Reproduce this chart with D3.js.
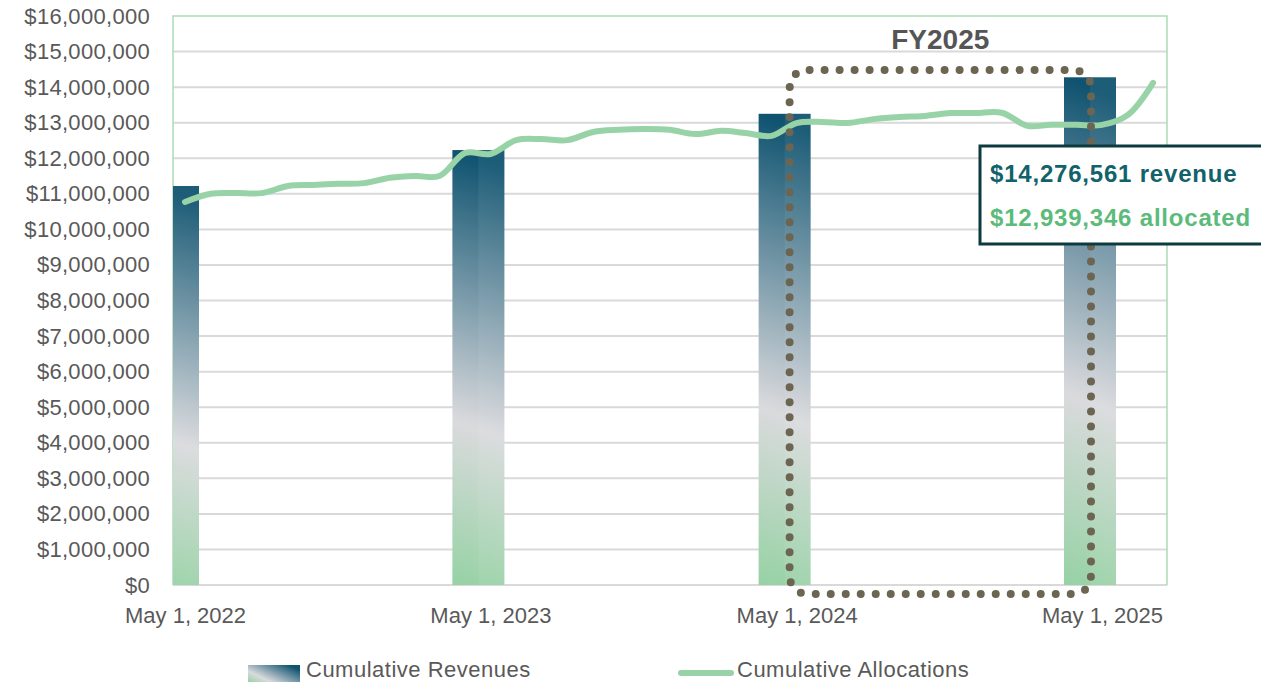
<!DOCTYPE html>
<html lang="en">
<meta charset="utf-8">
<head>
  <script src="https://d3js.org/d3.v7.min.js"></script>
  <style>
    body { margin: 0; background: #fff; }
    svg { display: block; font-family: "Liberation Sans", Arial, sans-serif; }
  </style>
</head>
<body>
<svg id="chart" width="1261" height="684"></svg>
<script>
// revenue bars, one per fiscal year mark
var barDates = ["2022-05-01", "2023-05-01", "2024-05-01", "2025-05-01"];
var revenues = [11220000, 12230000, 13250000, 14276561];

// cumulative allocations, monthly
var allocDates = [
  "2022-05-01", "2022-06-01", "2022-07-01", "2022-08-01", "2022-09-01", "2022-10-01",
  "2022-11-01", "2022-12-01", "2023-01-01", "2023-02-01", "2023-03-01", "2023-04-01",
  "2023-05-01", "2023-06-01", "2023-07-01", "2023-08-01", "2023-09-01", "2023-10-01",
  "2023-11-01", "2023-12-01", "2024-01-01", "2024-02-01", "2024-03-01", "2024-04-01",
  "2024-05-01", "2024-06-01", "2024-07-01", "2024-08-01", "2024-09-01", "2024-10-01",
  "2024-11-01", "2024-12-01", "2025-01-01", "2025-02-01", "2025-03-01", "2025-04-01",
  "2025-05-01", "2025-06-01", "2025-07-01"
];
var allocations = [
  10770000, 11000000, 11020000, 11020000, 11220000, 11250000,
  11280000, 11300000, 11450000, 11500000, 11500000, 12150000,
  12120000, 12510000, 12540000, 12510000, 12740000, 12800000,
  12820000, 12800000, 12680000, 12770000, 12710000, 12630000,
  12990000, 13020000, 12990000, 13100000, 13160000, 13190000,
  13270000, 13270000, 13280000, 12910000, 12940000, 12940000,
  12939346, 13220000, 14120000
];

var xTickDates = ["2022-05-01", "2023-05-01", "2024-05-01", "2025-05-01"];
var yTicks = d3.range(0, 16000001, 1000000);

var calloutLines = ["$14,276,561 revenue", "$12,939,346 allocated"];
var annotationLabel = "FY2025";
var legendLabels = ["Cumulative Revenues", "Cumulative Allocations"];

var parse = d3.timeParse("%Y-%m-%d");

var svg = d3.select("#chart");
var plotL = 173, plotR = 1167, plotT = 16, plotB = 585;

var x = d3.scaleTime()
  .domain([parse("2022-05-01"), parse("2025-05-01")])
  .range([185, 1102]);
var y = d3.scaleLinear()
  .domain([0, 16000000])
  .range([plotB, plotT]);

var barW = 52, barShift = 12;
var fmt = function(d) { return "$" + d3.format(",")(d); };

var defs = svg.append("defs");
defs.append("clipPath").attr("id", "plotclip")
  .append("rect")
  .attr("x", plotL).attr("y", 0)
  .attr("width", plotR - plotL).attr("height", plotB + 1);

// bar gradient (slightly tilted)
var g1 = defs.append("linearGradient").attr("id", "barGrad")
  .attr("x1", 0).attr("y1", 1).attr("x2", 0.04).attr("y2", 0);
g1.append("stop").attr("offset", "0").attr("stop-color", "#96d2a4");
g1.append("stop").attr("offset", "0.38").attr("stop-color", "#dadadd");
g1.append("stop").attr("offset", "1").attr("stop-color", "#0f5370");

var g2 = defs.append("linearGradient").attr("id", "legGrad")
  .attr("x1", 0).attr("y1", 1).attr("x2", 1).attr("y2", 0.3);
g2.append("stop").attr("offset", "0").attr("stop-color", "#96d2a4");
g2.append("stop").attr("offset", "0.3").attr("stop-color", "#dadadd");
g2.append("stop").attr("offset", "1").attr("stop-color", "#0f5370");

// gridlines
svg.append("g")
  .selectAll("line")
  .data(yTicks.filter(function(d) { return d < 16000000; }))
  .enter()
  .append("line")
    .attr("x1", plotL).attr("x2", plotR)
    .attr("y1", function(d) { return y(d); })
    .attr("y2", function(d) { return y(d); })
    .attr("stroke", "#d9d9d9")
    .attr("stroke-width", 2);

// plot border (left, top, right)
svg.append("path")
  .attr("d", "M" + plotL + "," + plotB + "V" + plotT + "H" + plotR + "V" + plotB)
  .attr("fill", "none")
  .attr("stroke", "#acdcb7")
  .attr("stroke-width", 1.5);

// y axis
var yAxis = svg.append("g")
  .attr("transform", "translate(" + plotL + ",0)")
  .call(d3.axisLeft(y).tickValues(yTicks).tickFormat(fmt).tickSize(0).tickPadding(23));
yAxis.select(".domain").remove();
yAxis.selectAll("text")
  .attr("fill", "#595959")
  .style("font-size", "22px")
  .style("letter-spacing", "0.3px")
  .style("font-family", "'Liberation Sans', Arial, sans-serif");

// x axis
var xAxis = svg.append("g")
  .attr("transform", "translate(0," + plotB + ")")
  .call(d3.axisBottom(x)
    .tickValues(xTickDates.map(parse))
    .tickFormat(d3.timeFormat("%b %-d, %Y"))
    .tickSize(0).tickPadding(22));
xAxis.select(".domain").remove();
xAxis.selectAll("text")
  .attr("fill", "#595959")
  .style("font-size", "22px")
  .style("font-family", "'Liberation Sans', Arial, sans-serif");

// bars
var bars = svg.append("g").attr("clip-path", "url(#plotclip)");
var barData = barDates.map(function(d, i) { return { date: parse(d), value: revenues[i] }; });
bars.selectAll("rect.bar")
  .data(barData)
  .enter()
  .append("rect")
    .attr("class", "bar")
    .attr("x", function(d) { return x(d.date) - barShift - barW / 2; })
    .attr("y", function(d) { return y(d.value); })
    .attr("width", barW)
    .attr("height", function(d) { return y(0) - y(d.value); })
    .attr("fill", "url(#barGrad)");
// right half sheen
bars.selectAll("rect.sheen")
  .data(barData)
  .enter()
  .append("rect")
    .attr("class", "sheen")
    .attr("x", function(d) { return x(d.date) - barShift; })
    .attr("y", function(d) { return y(d.value); })
    .attr("width", barW / 2)
    .attr("height", function(d) { return y(0) - y(d.value); })
    .attr("fill", "#fff")
    .attr("opacity", 0.06);

// allocations line
var lineData = allocDates.map(function(d, i) { return { date: parse(d), value: allocations[i] }; });
var line = d3.line()
  .x(function(d) { return x(d.date); })
  .y(function(d) { return y(d.value); })
  .curve(d3.curveCatmullRom.alpha(0.5));
svg.append("path")
  .datum(lineData)
  .attr("d", line)
  .attr("fill", "none")
  .attr("stroke", "#98d3a8")
  .attr("stroke-width", 6)
  .attr("stroke-linecap", "round")
  .attr("stroke-linejoin", "round");

// FY2025 dotted box
var boxL = x(parse(barDates[2])) - 7, boxR = x(parse(barDates[3])) - 11;
var boxT = y(14480000), boxB = y(-250000), r = 20;
var boxPath = "M" + (boxL + r) + "," + boxT +
  "H" + (boxR - r) + "Q" + boxR + "," + boxT + " " + boxR + "," + (boxT + r) +
  "V" + (boxB - r) + "Q" + boxR + "," + boxB + " " + (boxR - r) + "," + boxB +
  "H" + (boxL + r) + "Q" + boxL + "," + boxB + " " + boxL + "," + (boxB - r) +
  "V" + (boxT + r) + "Q" + boxL + "," + boxT + " " + (boxL + r) + "," + boxT + "Z";
svg.append("path")
  .attr("d", boxPath)
  .attr("fill", "none")
  .attr("stroke", "#6b6552")
  .attr("stroke-width", 8)
  .attr("stroke-linecap", "round")
  .attr("stroke-dasharray", "0 15");

svg.append("text")
  .attr("x", (boxL + boxR) / 2)
  .attr("y", 49)
  .attr("text-anchor", "middle")
  .attr("fill", "#555555")
  .style("font-size", "28px")
  .style("font-weight", "bold")
  .text(annotationLabel);

// callout
var callout = svg.append("g");
callout.append("rect")
  .attr("x", 980).attr("y", 146)
  .attr("width", 320).attr("height", 98)
  .attr("fill", "#fff")
  .attr("stroke", "#0d3a3f")
  .attr("stroke-width", 3);
callout.selectAll("text")
  .data(calloutLines)
  .enter()
  .append("text")
    .attr("x", 990)
    .attr("y", function(d, i) { return 182 + i * 44; })
    .attr("fill", function(d, i) { return i === 0 ? "#12626b" : "#5cbb7a"; })
    .style("font-size", "24px")
    .style("font-weight", "bold")
    .style("letter-spacing", "0.8px")
    .text(function(d) { return d; });

// legend
var legend = svg.append("g");
legend.append("rect")
  .attr("x", 248).attr("y", 665)
  .attr("width", 52).attr("height", 17)
  .attr("fill", "url(#legGrad)");
legend.append("text")
  .attr("x", 306).attr("y", 677)
  .attr("fill", "#595959")
  .style("font-size", "22px")
  .style("letter-spacing", "0.5px")
  .text(legendLabels[0]);
legend.append("line")
  .attr("x1", 681).attr("x2", 731)
  .attr("y1", 673).attr("y2", 673)
  .attr("stroke", "#98d3a8")
  .attr("stroke-width", 6)
  .attr("stroke-linecap", "round");
legend.append("text")
  .attr("x", 737).attr("y", 677)
  .attr("fill", "#595959")
  .style("font-size", "22px")
  .style("letter-spacing", "0.5px")
  .text(legendLabels[1]);
</script>
</body>
</html>
